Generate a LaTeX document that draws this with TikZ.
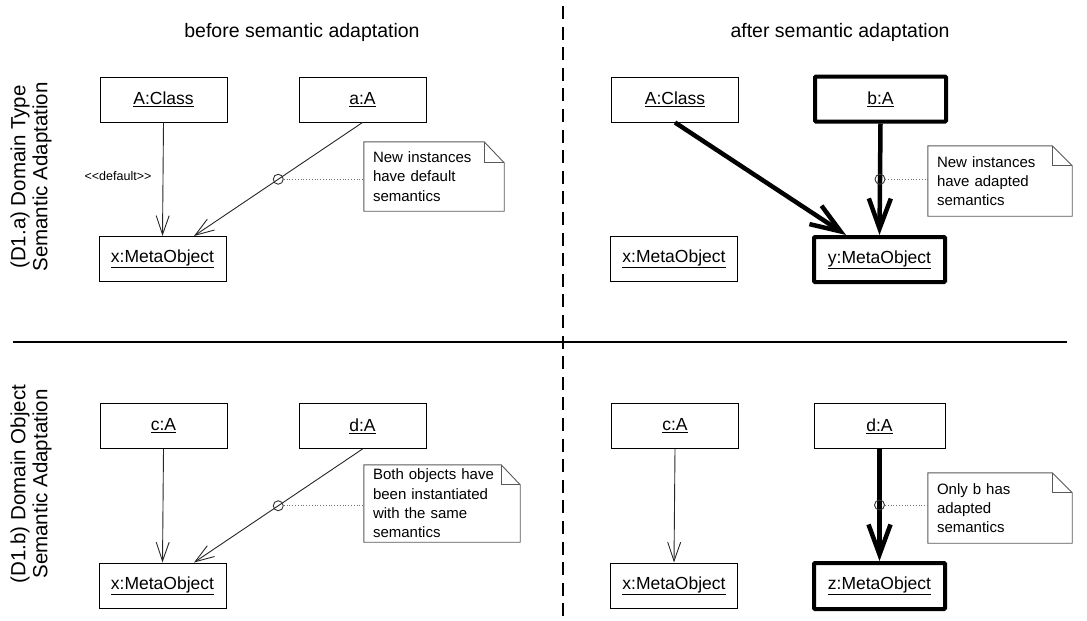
\documentclass[tikz,border=0pt]{standalone}
\usepackage{fontspec}
\setmainfont{Liberation Sans}
\usetikzlibrary{arrows.meta,calc}
\begin{document}
\begin{tikzpicture}[x=1pt,y=-1pt,
  obj/.style={draw=black, line width=1pt, minimum width=127pt, minimum height=45pt, inner sep=0pt, font=\fontsize{17.5}{20}\selectfont},
  objthick/.style={obj, line width=4pt, minimum width=131pt, rounded corners=1pt},
  notebox/.style={inner xsep=9pt, inner ysep=0pt, align=left, font=\fontsize{15}{19.3}\selectfont, anchor=center},
  noteline/.style={draw=black!65, line width=0.9pt},
  thinarr/.style={draw=black!85, line width=0.9pt, -{Straight Barb[length=19pt,width=13pt]}},
  thickarr/.style={draw=black, line width=4.5pt, -{Straight Barb[length=30pt,width=22pt]}},
  circ/.style={circle, draw=black!80, line width=0.9pt, minimum size=10pt, inner sep=0pt, fill=none},
  dotl/.style={draw=black!55, line width=0.8pt, dotted},
  title/.style={font=\fontsize{19.5}{23}\selectfont},
  side/.style={rotate=90, align=center, font=\fontsize{20.5}{22}\selectfont}
]
\useasboundingbox (0,0) rectangle (1087,621);

% frame lines
\coordinate (hl) at (13,342);
\coordinate (hr) at (1067,342);
\coordinate (vt) at (563,6);
\coordinate (vb) at (563,616);
\draw[line width=2pt] (hl) -- (hr);
\draw[line width=2pt, dash pattern=on 13pt off 7.6pt] (vt) -- (vb);

% titles and side labels
\node[title] (t1) at (302,32) {before semantic adaptation};
\node[title] (t2) at (840,32) {after semantic adaptation};
\node[side] (s1) at (31,177) {(D1.a) Domain Type\\Semantic Adaptation};
\node[side] (s2) at (31,484) {(D1.b) Domain Object\\Semantic Adaptation};

% ---------- top left ----------
\node[obj] (A1) at (163.5,99.5) {\underline{A:Class}};
\node[obj] (a1) at (362.5,99.5) {\underline{a:A}};
\node[obj] (x1) at (162.5,259) {\underline{x:MetaObject}};
\draw[thinarr] (A1.south) -- (x1.north);
\node[font=\fontsize{12.5}{14}\selectfont] (def) at (118,176) {<{}<default>{}>};
\draw[thinarr] (a1.south) -- ([xshift=31.5pt]x1.north) node[pos=0.5, circ] (k1) {};
\node[notebox, text width=122pt, minimum height=69pt] (n1) at (434,176.5) {New instances\\have default\\semantics};
\draw[noteline] (n1.south west) -- (n1.north west) -- ([xshift=-20pt]n1.north east) -- ([yshift=-21pt]n1.north east) -- (n1.south east) -- cycle;
\draw[noteline] ([xshift=-20pt]n1.north east) |- ([yshift=-21pt]n1.north east);
\draw[dotl] (k1.east) -- (n1.west |- k1);

% ---------- top right ----------
\node[obj] (A2) at (675,99.5) {\underline{A:Class}};
\node[objthick] (b2) at (880.5,99) {\underline{b:A}};
\node[obj] (x2) at (674,259) {\underline{x:MetaObject}};
\node[objthick] (y2) at (879.5,259.5) {\underline{y:MetaObject}};
\draw[thickarr] (A2.south) -- ([xshift=-33.5pt]y2.north);
\draw[thickarr] (b2.south) -- (y2.north);
\node[circ] (k2) at ($(b2.south)!0.5!(y2.north)$) {};
\node[notebox, text width=126pt, minimum height=70pt] (n2) at (1000,181) {New instances\\have adapted\\semantics};
\draw[noteline] (n2.south west) -- (n2.north west) -- ([xshift=-20pt]n2.north east) -- ([yshift=-20pt]n2.north east) -- (n2.south east) -- cycle;
\draw[noteline] ([xshift=-20pt]n2.north east) |- ([yshift=-20pt]n2.north east);
\draw[dotl] (k2.east) -- (n2.west |- k2);

% ---------- bottom left ----------
\node[obj] (c3) at (163.5,426) {\underline{c:A}};
\node[obj] (d3) at (362.5,426) {\underline{d:A}};
\node[obj] (x3) at (162.5,585.5) {\underline{x:MetaObject}};
\draw[thinarr] (c3.south) -- (x3.north);
\draw[thinarr] (d3.south) -- ([xshift=31.5pt]x3.north) node[pos=0.5, circ] (k3) {};
\node[notebox, text width=138pt, minimum height=77pt] (n3) at (442,503.5) {Both objects have\\been instantiated\\with the same\\semantics};
\draw[noteline] (n3.south west) -- (n3.north west) -- ([xshift=-19pt]n3.north east) -- ([yshift=-20pt]n3.north east) -- (n3.south east) -- cycle;
\draw[noteline] ([xshift=-19pt]n3.north east) |- ([yshift=-20pt]n3.north east);
\draw[dotl] (k3.east) -- (n3.west |- k3);

% ---------- bottom right ----------
\node[obj] (c4) at (675,426) {\underline{c:A}};
\node[obj, minimum width=131pt] (d4) at (879.5,426) {\underline{d:A}};
\node[obj] (x4) at (674,585.5) {\underline{x:MetaObject}};
\node[objthick, minimum height=46pt] (z4) at (879.5,586) {\underline{z:MetaObject}};
\draw[thinarr] (c4.south) -- (x4.north);
\draw[thickarr] (d4.south) -- (z4.north);
\node[circ] (k4) at ($(d4.south)!0.5!(z4.north)$) {};
\node[notebox, text width=126pt, minimum height=70pt] (n4) at (1000,508) {Only b has\\adapted\\semantics};
\draw[noteline] (n4.south west) -- (n4.north west) -- ([xshift=-20pt]n4.north east) -- ([yshift=-20pt]n4.north east) -- (n4.south east) -- cycle;
\draw[noteline] ([xshift=-20pt]n4.north east) |- ([yshift=-20pt]n4.north east);
\draw[dotl] (k4.east) -- (n4.west |- k4);
\end{tikzpicture}
\end{document}
